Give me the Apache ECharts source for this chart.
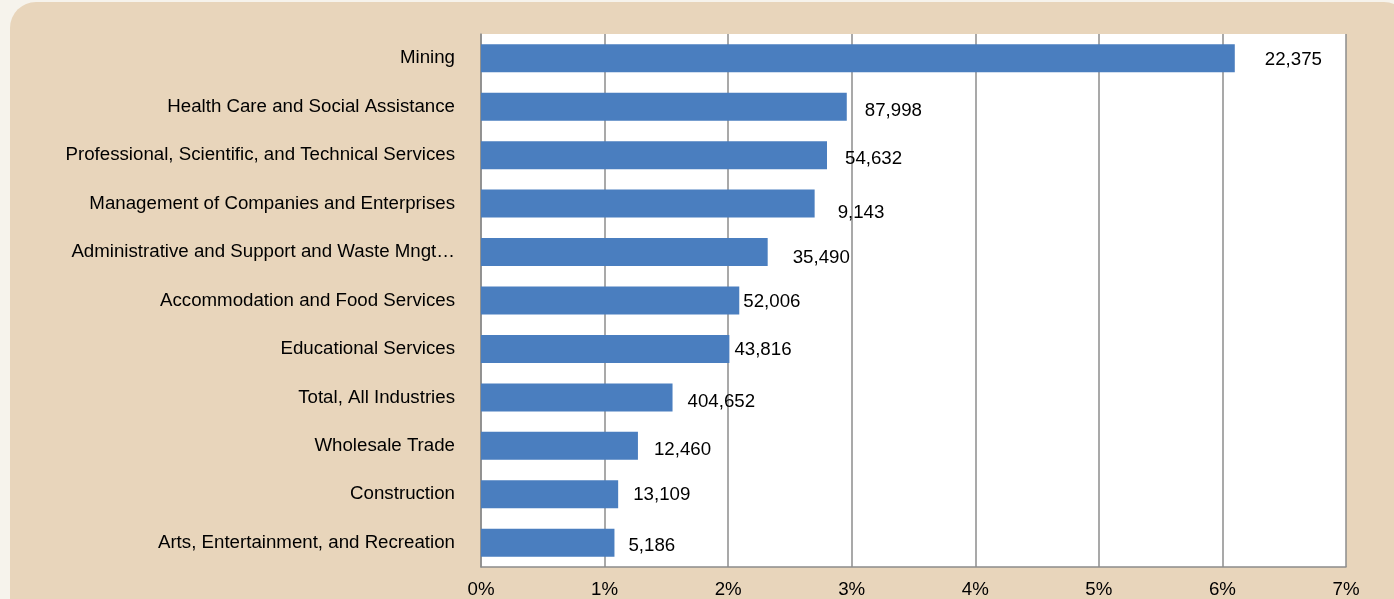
<!DOCTYPE html>
<html><head><meta charset="utf-8">
<script src="https://cdn.jsdelivr.net/npm/echarts@6/dist/echarts.min.js"></script>
<style>html,body{margin:0;padding:0;background:#f6f3ec;}#c{width:1394px;height:599px;}</style>
</head><body><div id="c"></div>
<script>
const categories = [
  "Mining",
  "Health Care and Social Assistance",
  "Professional, Scientific, and Technical Services",
  "Management of Companies and Enterprises",
  "Administrative and Support and Waste Mngt…",
  "Accommodation and Food Services",
  "Educational Services",
  "Total, All Industries",
  "Wholesale Trade",
  "Construction",
  "Arts, Entertainment, and Recreation"
];
const rates = [6.10, 2.96, 2.80, 2.70, 2.32, 2.09, 2.01, 1.55, 1.27, 1.11, 1.08];
const counts = ["22,375","87,998","54,632","9,143","35,490","52,006","43,816","404,652","12,460","13,109","5,186"];
const xTicks = [0,1,2,3,4,5,6,7];

// label nudges (style only): [dx, dy]
const labelNudge = [[30,2],[18,4],[18,4],[23,9],[25,6],[4,1],[5,1],[15,4],[16,4],[15,1],[14,3]];

const chart = echarts.init(document.getElementById('c'));
chart.setOption({
  animation:false,
  graphic:[{type:'rect',z:-10,shape:{x:10,y:2,width:1400,height:640,r:26},style:{fill:'#e8d5bb'}}],
  grid:{left:481,right:48,top:34,bottom:32,backgroundColor:'#ffffff',show:true,borderWidth:0},
  xAxis:{type:'value',min:0,max:7,interval:1,
    axisLine:{show:true,lineStyle:{color:'#8c8c8c',width:1.5}},
    axisTick:{show:false},
    splitLine:{show:true,lineStyle:{color:'#8c8c8c',width:1.5}},
    axisLabel:{formatter:v=>xTicks.includes(v)?v+'%':'',fontFamily:'Liberation Sans',fontSize:18.7,color:'#000',margin:13}},
  yAxis:{type:'category',data:categories,inverse:true,
    axisLine:{show:true,lineStyle:{color:'#8c8c8c',width:1.5}},
    axisTick:{show:false},
    axisLabel:{fontFamily:'Liberation Sans',fontSize:18.7,color:'#000',margin:26,padding:[3,0,0,0]}},
  series:[{type:'bar',barWidth:28,
    data:rates.map((v,i)=>({value:v,label:{offset:labelNudge[i]}})),
    itemStyle:{color:'#4a7ebf'},
    label:{show:true,position:'right',distance:0,formatter:p=>counts[p.dataIndex],fontFamily:'Liberation Sans',fontSize:18.7,color:'#000'}
  }]
});
</script></body></html>
